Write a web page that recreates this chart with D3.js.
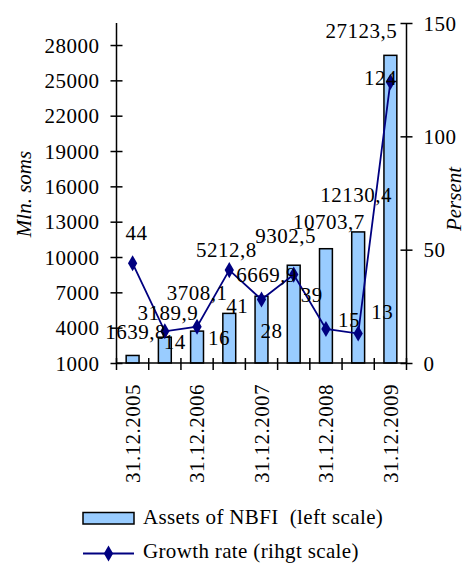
<!DOCTYPE html>
<html>
<head>
<meta charset="utf-8">
<script src="https://cdn.jsdelivr.net/npm/d3@7/dist/d3.min.js"></script>
<style>
  html, body { margin: 0; padding: 0; background: #fff; }
  svg { display: block; }
  text { font-family: "Liberation Serif", "Times New Roman", serif; fill: #000; }
</style>
</head>
<body>
<svg id="chart" width="466" height="565"></svg>
<script>
// Half-year reporting dates
const categories = ["31.12.2005", "30.06.2006", "31.12.2006", "30.06.2007", "31.12.2007",
                    "30.06.2008", "31.12.2008", "30.06.2009", "31.12.2009"];
// Assets of NBFI, mln. soms (left scale)
const assets = [1639.8, 3189.9, 3708.1, 5212.8, 6669.9, 9302.5, 10703.7, 12130.4, 27123.5];
// Growth rate, percent (right scale)
const growth = [44, 14, 16, 41, 28, 39, 15, 13, 124];
// Axis ticks
const leftTicks = [1000, 4000, 7000, 10000, 13000, 16000, 19000, 22000, 25000, 28000];
const rightTicks = [0, 50, 100, 150];
const xLabels = ["31.12.2005", "31.12.2006", "31.12.2007", "31.12.2008", "31.12.2009"];

// Label placement (offsets from the top of each bar / each marker)
const assetLabelOffsets = [[3, -16], [3, -17], [0, -31], [-3, -56], [5, -14], [-8, -22], [3, -20], [-2, -30], [-29, -17]];
const growthLabelOffsets = [[4, -23], [10, 18], [22, 18], [8, 43], [10, 38], [18, 27], [23, -2], [24, -15], [-10, 3]];

const plot = { left: 116.5, right: 406.5, top: 23, bottom: 363 };
const FONT = 21;
const navy = "#000080";
const barFill = "#99ccff";

const svg = d3.select("#chart");

const x = d3.scaleBand().domain(categories)
  .range([plot.left, plot.right]).paddingInner(0.6).paddingOuter(0.3);
const yL = d3.scaleLinear().domain([1000, 29870]).range([plot.bottom, plot.top]);
const yR = d3.scaleLinear().domain([0, 150]).range([plot.bottom, plot.top]);

// Bars
svg.append("g").selectAll("rect").data(assets).join("rect")
  .attr("x", (d, i) => x(categories[i]))
  .attr("y", d => yL(d))
  .attr("width", x.bandwidth())
  .attr("height", d => yL.range()[0] - yL(d))
  .attr("fill", barFill)
  .attr("stroke", "#000")
  .attr("stroke-width", 1.5);

// Left axis
const gL = svg.append("g").attr("transform", `translate(${plot.left},0)`)
  .call(d3.axisLeft(yL).tickValues(leftTicks).tickFormat(d3.format("d")).tickSize(6).tickPadding(11));
gL.select(".domain").attr("stroke-width", 1.5).attr("d", `M0,${plot.top}V${plot.bottom}`);
gL.selectAll(".tick line").attr("x1", 6).attr("stroke-width", 1.5);
gL.selectAll(".tick text").attr("font-size", FONT).attr("letter-spacing", 0.5)
  .style("font-family", "Liberation Serif").attr("dy", "0.34em");

// Right axis
const gR = svg.append("g").attr("transform", `translate(${plot.right},0)`)
  .call(d3.axisRight(yR).tickValues(rightTicks).tickSize(6).tickPadding(11));
gR.select(".domain").attr("stroke-width", 1.5).attr("d", `M0,${plot.top}V${plot.bottom}`);
gR.selectAll(".tick line").attr("x1", -6).attr("stroke-width", 1.5);
gR.selectAll(".tick text").attr("font-size", FONT).attr("letter-spacing", 0.5)
  .style("font-family", "Liberation Serif").attr("dy", "0.34em");

// Bottom axis: ticks between categories, labels on year-end dates
const step = x.step();
const boundaries = d3.range(categories.length + 1).map(i => plot.left + i * step);
const gB = svg.append("g");
gB.append("line")
  .attr("x1", plot.left).attr("x2", plot.right)
  .attr("y1", plot.bottom).attr("y2", plot.bottom)
  .attr("stroke", "#000").attr("stroke-width", 1.5);
gB.selectAll("line.tick").data(boundaries).join("line").attr("class", "tick")
  .attr("x1", d => d).attr("x2", d => d)
  .attr("y1", plot.bottom - 5).attr("y2", plot.bottom + 7)
  .attr("stroke", "#000").attr("stroke-width", 1.5);
gB.selectAll("text").data(xLabels).join("text")
  .attr("transform", d => `translate(${x(d) + x.bandwidth() / 2},${plot.bottom + 21}) rotate(-90)`)
  .attr("text-anchor", "end")
  .attr("dy", "0.34em")
  .attr("font-size", FONT)
  .attr("letter-spacing", 0.45)
  .text(d => d);

// Growth line and markers
const cx = (d, i) => x(categories[i]) + x.bandwidth() / 2;
const line = d3.line().x(cx).y(d => yR(d));
svg.append("path").datum(growth)
  .attr("d", line).attr("fill", "none")
  .attr("stroke", navy).attr("stroke-width", 1.8);
const diamond = d3.symbol().type(d3.symbolDiamond).size(75);
svg.append("g").selectAll("path").data(growth).join("path")
  .attr("transform", (d, i) => `translate(${cx(d, i)},${yR(d)})`)
  .attr("d", diamond).attr("fill", navy);

// Data labels
const numFmt = d => d3.format(".1f")(d).replace(".", ",");
svg.append("g").selectAll("text").data(assets).join("text")
  .attr("x", (d, i) => cx(d, i) + assetLabelOffsets[i][0])
  .attr("y", (d, i) => yL(d) + assetLabelOffsets[i][1])
  .attr("text-anchor", "middle").attr("font-size", FONT).attr("letter-spacing", 0.5)
  .text(numFmt);
svg.append("g").selectAll("text").data(growth).join("text")
  .attr("x", (d, i) => cx(d, i) + growthLabelOffsets[i][0])
  .attr("y", (d, i) => yR(d) + growthLabelOffsets[i][1])
  .attr("text-anchor", "middle").attr("font-size", FONT).attr("letter-spacing", 0.5)
  .text(d => d);

// Axis titles
svg.append("text")
  .attr("transform", "translate(31,194) rotate(-90)")
  .attr("text-anchor", "middle").attr("font-size", FONT).attr("font-style", "italic")
  .text("Mln. soms");
svg.append("text")
  .attr("transform", "translate(461,199) rotate(-90)")
  .attr("text-anchor", "middle").attr("font-size", FONT).attr("font-style", "italic")
  .text("Persent");

// Legend
const lg = svg.append("g");
lg.append("rect").attr("x", 83).attr("y", 512.5).attr("width", 51).attr("height", 11.5)
  .attr("fill", barFill).attr("stroke", "#000").attr("stroke-width", 1.5);
lg.append("text").attr("x", 143).attr("y", 524).attr("font-size", FONT)
  .attr("letter-spacing", 0.35).style("white-space", "pre")
  .text("Assets of NBFI  (left scale)");
lg.append("line").attr("x1", 83).attr("x2", 134).attr("y1", 553.5).attr("y2", 553.5)
  .attr("stroke", navy).attr("stroke-width", 1.8);
lg.append("path").attr("transform", "translate(108.5,553.5)").attr("d", diamond).attr("fill", navy);
lg.append("text").attr("x", 143).attr("y", 558).attr("font-size", FONT)
  .attr("letter-spacing", 0.35).style("white-space", "pre")
  .text("Growth rate (rihgt scale)");
</script>
</body>
</html>
